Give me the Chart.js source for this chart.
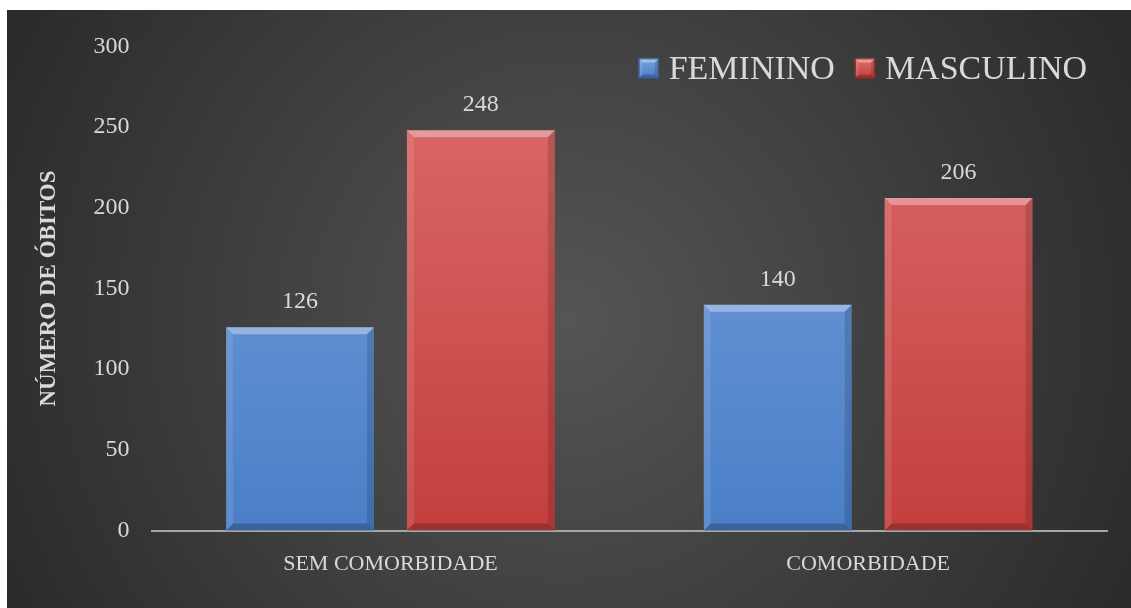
<!DOCTYPE html>
<html>
<head>
<meta charset="utf-8">
<script src="https://cdn.jsdelivr.net/npm/chart.js@4/dist/chart.umd.min.js"></script>
<style>
    html, body { margin: 0; padding: 0; background: #ffffff; }
    #wrap { position: absolute; left: 7px; top: 10px; width: 1124px; height: 598px; }
</style>
</head>
<body>
<div id="wrap"><canvas id="chart"></canvas></div>
<script>
// dados
const categorias = ['SEM COMORBIDADE', 'COMORBIDADE'];
const feminino = [126, 140];
const masculino = [248, 206];
const yMax = 300;
const yStep = 50;

const FONT = "'Liberation Serif', 'DejaVu Serif', serif";
const TXT = '#d9d9d9';
const CORES = [
    { topo: '#79a3dc', base: '#4a7fc7', borda: '#2f5a96' },
    { topo: '#dc6e6c', base: '#c33f3d', borda: '#8f2a28' }
];

// fundo com gradiente radial
const fundo = {
    id: 'fundo',
    beforeDraw(chart) {
        const { ctx, width, height } = chart;
        const g = ctx.createRadialGradient(width * 0.5, height * 0.52, 0, width * 0.5, height * 0.52, width * 0.62);
        g.addColorStop(0, '#555555');
        g.addColorStop(1, '#262626');
        ctx.save();
        ctx.fillStyle = g;
        ctx.fillRect(0, 0, width, height);
        ctx.restore();
    }
};

function chanfro(ctx, l, t, r, b, e) {
    ctx.fillStyle = 'rgba(255,255,255,0.35)';
    ctx.beginPath();
    ctx.moveTo(l, t); ctx.lineTo(r, t); ctx.lineTo(r - e, t + e); ctx.lineTo(l + e, t + e);
    ctx.closePath(); ctx.fill();
    ctx.fillStyle = 'rgba(255,255,255,0.10)';
    ctx.beginPath();
    ctx.moveTo(l, t); ctx.lineTo(l + e, t + e); ctx.lineTo(l + e, b - e); ctx.lineTo(l, b);
    ctx.closePath(); ctx.fill();
    ctx.fillStyle = 'rgba(0,0,0,0.14)';
    ctx.beginPath();
    ctx.moveTo(r, t); ctx.lineTo(r - e, t + e); ctx.lineTo(r - e, b - e); ctx.lineTo(r, b);
    ctx.closePath(); ctx.fill();
    ctx.fillStyle = 'rgba(0,0,0,0.22)';
    ctx.beginPath();
    ctx.moveTo(l, b); ctx.lineTo(l + e, b - e); ctx.lineTo(r - e, b - e); ctx.lineTo(r, b);
    ctx.closePath(); ctx.fill();
}

// bisel das barras + rótulos de valor
const barras = {
    id: 'barras',
    afterDatasetsDraw(chart) {
        const ctx = chart.ctx;
        ctx.save();
        chart.data.datasets.forEach((ds, i) => {
            chart.getDatasetMeta(i).data.forEach((bar, j) => {
                chanfro(ctx, bar.x - bar.width / 2, bar.y, bar.x + bar.width / 2, bar.base, 7);
                ctx.font = '24px ' + FONT;
                ctx.fillStyle = TXT;
                ctx.textAlign = 'center';
                ctx.textBaseline = 'alphabetic';
                ctx.fillText(ds.data[j], bar.x, bar.y - 19);
            });
        });
        ctx.restore();
    }
};

// legenda dentro da área do gráfico
const legenda = {
    id: 'legenda',
    afterDraw(chart) {
        const ctx = chart.ctx;
        const area = chart.chartArea;
        ctx.save();
        ctx.font = '34px ' + FONT;
        ctx.textBaseline = 'middle';
        ctx.textAlign = 'left';
        const box = 20, gapTxt = 10, gapItem = 20;
        const itens = chart.data.datasets.map(ds => ds.label);
        let total = 0;
        itens.forEach((t, i) => { total += box + gapTxt + ctx.measureText(t).width + (i ? gapItem : 0); });
        let x = area.right - 20 - total;
        const yc = area.top + 22;
        itens.forEach((t, i) => {
            const c = CORES[i];
            const g = ctx.createLinearGradient(0, yc - box / 2, 0, yc + box / 2);
            g.addColorStop(0, c.topo);
            g.addColorStop(1, c.base);
            ctx.fillStyle = g;
            ctx.fillRect(x, yc - box / 2, box, box);
            chanfro(ctx, x, yc - box / 2, x + box, yc + box / 2, 4);
            ctx.strokeStyle = c.borda;
            ctx.lineWidth = 1;
            ctx.strokeRect(x + 0.5, yc - box / 2 + 0.5, box - 1, box - 1);
            ctx.fillStyle = TXT;
            ctx.fillText(t, x + box + gapTxt, yc + 2);
            x += box + gapTxt + ctx.measureText(t).width + gapItem;
        });
        ctx.restore();
    }
};

function grad(c1, c2) {
    return (context) => {
        const area = context.chart.chartArea;
        if (!area) return c2;
        const g = context.chart.ctx.createLinearGradient(0, area.top, 0, area.bottom);
        g.addColorStop(0, c1);
        g.addColorStop(1, c2);
        return g;
    };
}

new Chart(document.getElementById('chart'), {
    type: 'bar',
    data: {
        labels: categorias,
        datasets: [
            { label: 'FEMININO', data: feminino, backgroundColor: grad(CORES[0].topo, CORES[0].base), categoryPercentage: 0.757, barPercentage: 0.818 },
            { label: 'MASCULINO', data: masculino, backgroundColor: grad(CORES[1].topo, CORES[1].base), categoryPercentage: 0.757, barPercentage: 0.818 }
        ]
    },
    options: {
        responsive: true,
        maintainAspectRatio: false,
        animation: false,
        layout: { padding: { left: 28, right: 24, top: 32, bottom: 11 } },
        plugins: {
            legend: { display: false },
            tooltip: { enabled: false }
        },
        scales: {
            x: {
                grid: { display: false, drawTicks: false },
                border: { display: true, color: '#a6a6a6', width: 2 },
                ticks: { color: TXT, font: { family: FONT, size: 22 }, padding: 20 }
            },
            y: {
                min: 0,
                max: yMax,
                grid: { display: false, drawTicks: false },
                border: { display: false },
                ticks: { stepSize: yStep, color: TXT, font: { family: FONT, size: 24 }, padding: 22 },
                title: {
                    display: true,
                    text: 'NÚMERO DE ÓBITOS',
                    color: TXT,
                    font: { family: FONT, size: 23, weight: 'bold' },
                    padding: { top: 0, bottom: 9 }
                }
            }
        }
    },
    plugins: [fundo, barras, legenda]
});
</script>
</body>
</html>
